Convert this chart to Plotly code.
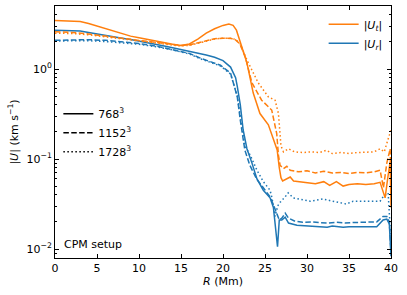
import plotly.graph_objects as go

# ---------------- data ----------------
R_ut768 = [0, 1, 2, 3, 4, 5, 6, 7, 8, 9, 10, 11, 12, 13, 14, 15, 16, 17, 18, 19, 20, 20.7, 21.2, 21.6, 22.0, 22.4,
           22.85, 23.6, 24.4, 25.4, 25.8, 26.2, 26.45, 26.7, 26.9, 27.1, 27.5, 28, 28.4, 29, 30, 31, 32, 32.7, 33.5,
           34.3, 35, 36, 37, 38, 38.7, 39.0, 39.3, 39.6, 39.9, 40]
U_t_768 = [3.45, 3.43, 3.41, 3.38, 3.2, 3.0, 2.8, 2.6, 2.45, 2.32, 2.22, 2.12, 2.03, 1.95, 1.88, 1.83, 1.9, 2.15, 2.5,
           2.8, 3.05, 3.16, 3.05, 2.7, 2.1, 1.6, 1.17, 0.54, 0.32, 0.24, 0.19, 0.15, 0.126, 0.08, 0.062, 0.057, 0.06,
           0.063, 0.057, 0.056, 0.055, 0.053, 0.056, 0.051, 0.056, 0.050, 0.052, 0.053, 0.052, 0.053, 0.055, 0.045,
           0.037, 0.06, 0.093, 0.029]

R_ut1152 = [0, 2, 4, 6, 8, 10, 12, 14, 15, 16, 17, 18, 19, 20, 21, 21.5, 22, 22.65, 23.45, 24.6, 25.8, 26.4, 26.6,
            26.8, 27.2, 27.6, 28, 29, 30, 31, 32, 33, 34, 35, 36, 37, 38, 38.7, 39.1, 39.5, 39.9, 40]
U_t_1152 = [2.6, 2.55, 2.45, 2.3, 2.2, 2.08, 1.98, 1.88, 1.83, 1.85, 1.95, 2.08, 2.17, 2.2, 2.18, 2.1, 1.9, 1.36, 0.7,
            0.45, 0.35, 0.19, 0.11, 0.085, 0.078, 0.083, 0.075, 0.072, 0.074, 0.070, 0.073, 0.070, 0.071, 0.069, 0.071,
            0.070, 0.072, 0.075, 0.048, 0.09, 0.13, 0.05]

R_ut1728 = [0, 2, 4, 6, 8, 10, 12, 14, 15, 16, 17, 18, 19, 20, 21, 21.5, 22, 22.85, 23.8, 24.2, 25.4, 26.2, 26.6,
            26.7, 26.9, 27.2, 27.8, 28.5, 29.5, 30.5, 31.5, 32.3, 33, 34, 35, 36, 37, 38, 38.7, 39.2, 39.6, 40]
U_t_1728 = [2.5, 2.48, 2.4, 2.28, 2.15, 2.05, 1.95, 1.85, 1.8, 1.83, 1.93, 2.06, 2.15, 2.2, 2.2, 2.12, 1.95, 1.26,
            0.85, 0.7, 0.49, 0.45, 0.32, 0.23, 0.14, 0.12, 0.13, 0.12, 0.118, 0.12, 0.118, 0.125, 0.115, 0.118, 0.115,
            0.118, 0.12, 0.12, 0.13, 0.12, 0.16, 0.21]

R_ur768 = [0, 1, 2, 3, 4, 5, 6, 7, 8, 9, 10, 11, 12, 13, 14, 15, 16, 17, 18, 19, 20, 20.9, 21.5, 21.7, 22.06, 22.4,
           22.85, 23.45, 24.04, 24.8, 25.6, 26.0, 26.3, 26.49, 26.7, 27.0, 27.4, 27.8, 28.8, 30, 31, 32.4, 33, 34.3,
           35, 36, 37, 38.3, 39.06, 39.5, 39.8, 40]
U_r_768 = [2.7, 2.7, 2.68, 2.65, 2.55, 2.45, 2.35, 2.28, 2.2, 2.13, 2.05, 1.98, 1.9, 1.8, 1.72, 1.65, 1.58, 1.51, 1.43,
           1.35, 1.24, 1.05, 0.8, 0.64, 0.4, 0.21, 0.13, 0.09, 0.06, 0.045, 0.037, 0.029, 0.015, 0.0106, 0.021, 0.021,
           0.0226, 0.0194, 0.0184, 0.0182, 0.0180, 0.0175, 0.018, 0.0175, 0.0177, 0.0178, 0.0177, 0.0177, 0.021,
           0.0215, 0.019, 0.0083]

R_ur1152 = [0, 2, 4, 6, 8, 10, 12, 14, 16, 17.3, 19.7, 20.9, 21.7, 22.06, 22.6, 23.2, 24, 24.8, 25.6, 26.0, 26.4,
            26.7, 27.0, 27.4, 27.8, 28.5, 29.5, 30.5, 31.5, 32.4, 33.5, 34.5, 35.5, 36.5, 37.5, 38.3, 39.06, 39.5,
            39.8, 40]
U_r_1152 = [2.08, 2.1, 2.12, 2.08, 2.0, 1.92, 1.8, 1.65, 1.49, 1.32, 1.1, 0.9, 0.49, 0.27, 0.126, 0.085, 0.06, 0.048,
            0.038, 0.031, 0.024, 0.021, 0.022, 0.025, 0.022, 0.0205, 0.0198, 0.020, 0.0196, 0.0194, 0.0198, 0.0195,
            0.0197, 0.0198, 0.020, 0.020, 0.023, 0.023, 0.020, 0.009]

R_ur1728 = [0, 2, 4, 6, 8, 10, 12, 14, 16, 17.3, 19.7, 20.9, 21.7, 22.06, 22.6, 23.25, 24.04, 24.8, 25.6, 25.83,
            26.0, 26.22, 26.5, 26.8, 27.4, 27.76, 28.36, 29.5, 30.4, 31.2, 31.9, 33, 34.7, 35.5, 36.3, 37.5, 38.7,
            39.06, 39.66, 40]
U_r_1728 = [2.05, 2.05, 2.06, 2.02, 1.96, 1.88, 1.77, 1.63, 1.47, 1.3, 1.08, 0.88, 0.5, 0.29, 0.14, 0.11, 0.075,
            0.056, 0.045, 0.037, 0.03, 0.023, 0.03, 0.033, 0.038, 0.042, 0.037, 0.035, 0.034, 0.035, 0.036, 0.034,
            0.0316, 0.034, 0.034, 0.034, 0.034, 0.038, 0.042, 0.012]

x_ticks = [0, 5, 10, 15, 20, 25, 30, 35, 40]
y_tickvals = [0.01, 0.1, 1]
y_ticktext = ["10<sup>−2</sup>", "10<sup>−1</sup>", "10<sup>0</sup>"]

ORANGE = "#ff7f0e"
BLUE = "#1f77b4"
DASH = "5.5px,2.4px"
DOT = "1.5px,2.5px"
LW = 1.5

fig = go.Figure()

series = [
    (R_ur768, U_r_768, BLUE, "solid"),
    (R_ur1152, U_r_1152, BLUE, DASH),
    (R_ur1728, U_r_1728, BLUE, DOT),
    (R_ut768, U_t_768, ORANGE, "solid"),
    (R_ut1152, U_t_1152, ORANGE, DASH),
    (R_ut1728, U_t_1728, ORANGE, DOT),
]
for xs, ys, c, d in series:
    fig.add_trace(go.Scatter(x=xs, y=ys, mode="lines", line=dict(color=c, width=LW, dash=d),
                             showlegend=False, hoverinfo="skip"))

# legend 1: components
fig.add_trace(go.Scatter(x=[None], y=[None], mode="lines", line=dict(color=ORANGE, width=LW),
                         name="|<i>U</i><sub><i>t</i></sub>|", legend="legend"))
fig.add_trace(go.Scatter(x=[None], y=[None], mode="lines", line=dict(color=BLUE, width=LW),
                         name="|<i>U</i><sub><i>r</i></sub>|", legend="legend"))
# legend 2: resolutions
for lbl, d in [("768<sup>3</sup>", "solid"), ("1152<sup>3</sup>", DASH), ("1728<sup>3</sup>", DOT)]:
    fig.add_trace(go.Scatter(x=[None], y=[None], mode="lines", line=dict(color="black", width=LW, dash=d),
                             name=lbl, legend="legend2"))

axis_common = dict(showline=True, linecolor="black", linewidth=1, mirror="ticks", ticks="inside",
                   tickcolor="black", ticklen=4, tickwidth=1, showgrid=False, zeroline=False,
                   automargin=False, tickfont=dict(size=11, color="black"))

minor_vals = [m * 10 ** k for k in range(-3, 1) for m in range(2, 10)]

fig.update_xaxes(range=[0, 40], tickvals=x_ticks, title=dict(text="<i>R</i> (Mm)", font=dict(size=11), standoff=3),
                 **axis_common)
fig.update_yaxes(type="log", range=[-2.1, 0.7], tickvals=y_tickvals, ticktext=y_ticktext,
                 title=dict(text="|<i>U</i>| (km s<sup>−1</sup>)", font=dict(size=11), standoff=5),
                 minor=dict(ticks="inside", ticklen=2, tickcolor="black", tickwidth=0.8, tickvals=minor_vals,
                            showgrid=False),
                 **axis_common)

fig.add_annotation(text="CPM setup", xref="paper", yref="paper", x=0.02, y=0.02, xanchor="left",
                   yanchor="bottom", showarrow=False, font=dict(size=11, color="black"))

fig.update_layout(
    width=407, height=295,
    margin=dict(l=55, r=16, t=6, b=37, autoexpand=False),
    paper_bgcolor="white", plot_bgcolor="white",
    font=dict(family="DejaVu Sans", size=11, color="black"),
    legend=dict(x=0.99, y=0.985, xanchor="right", yanchor="top", bgcolor="rgba(0,0,0,0)",
                font=dict(size=11), tracegroupgap=0),
    legend2=dict(x=0.01, y=0.63, xanchor="left", yanchor="top", bgcolor="rgba(0,0,0,0)",
                 font=dict(size=11), tracegroupgap=0),
)

fig.write_html("out.html", config={"displayModeBar": False},
               post_script="document.body.style.margin='0';document.body.style.overflow='hidden';")
